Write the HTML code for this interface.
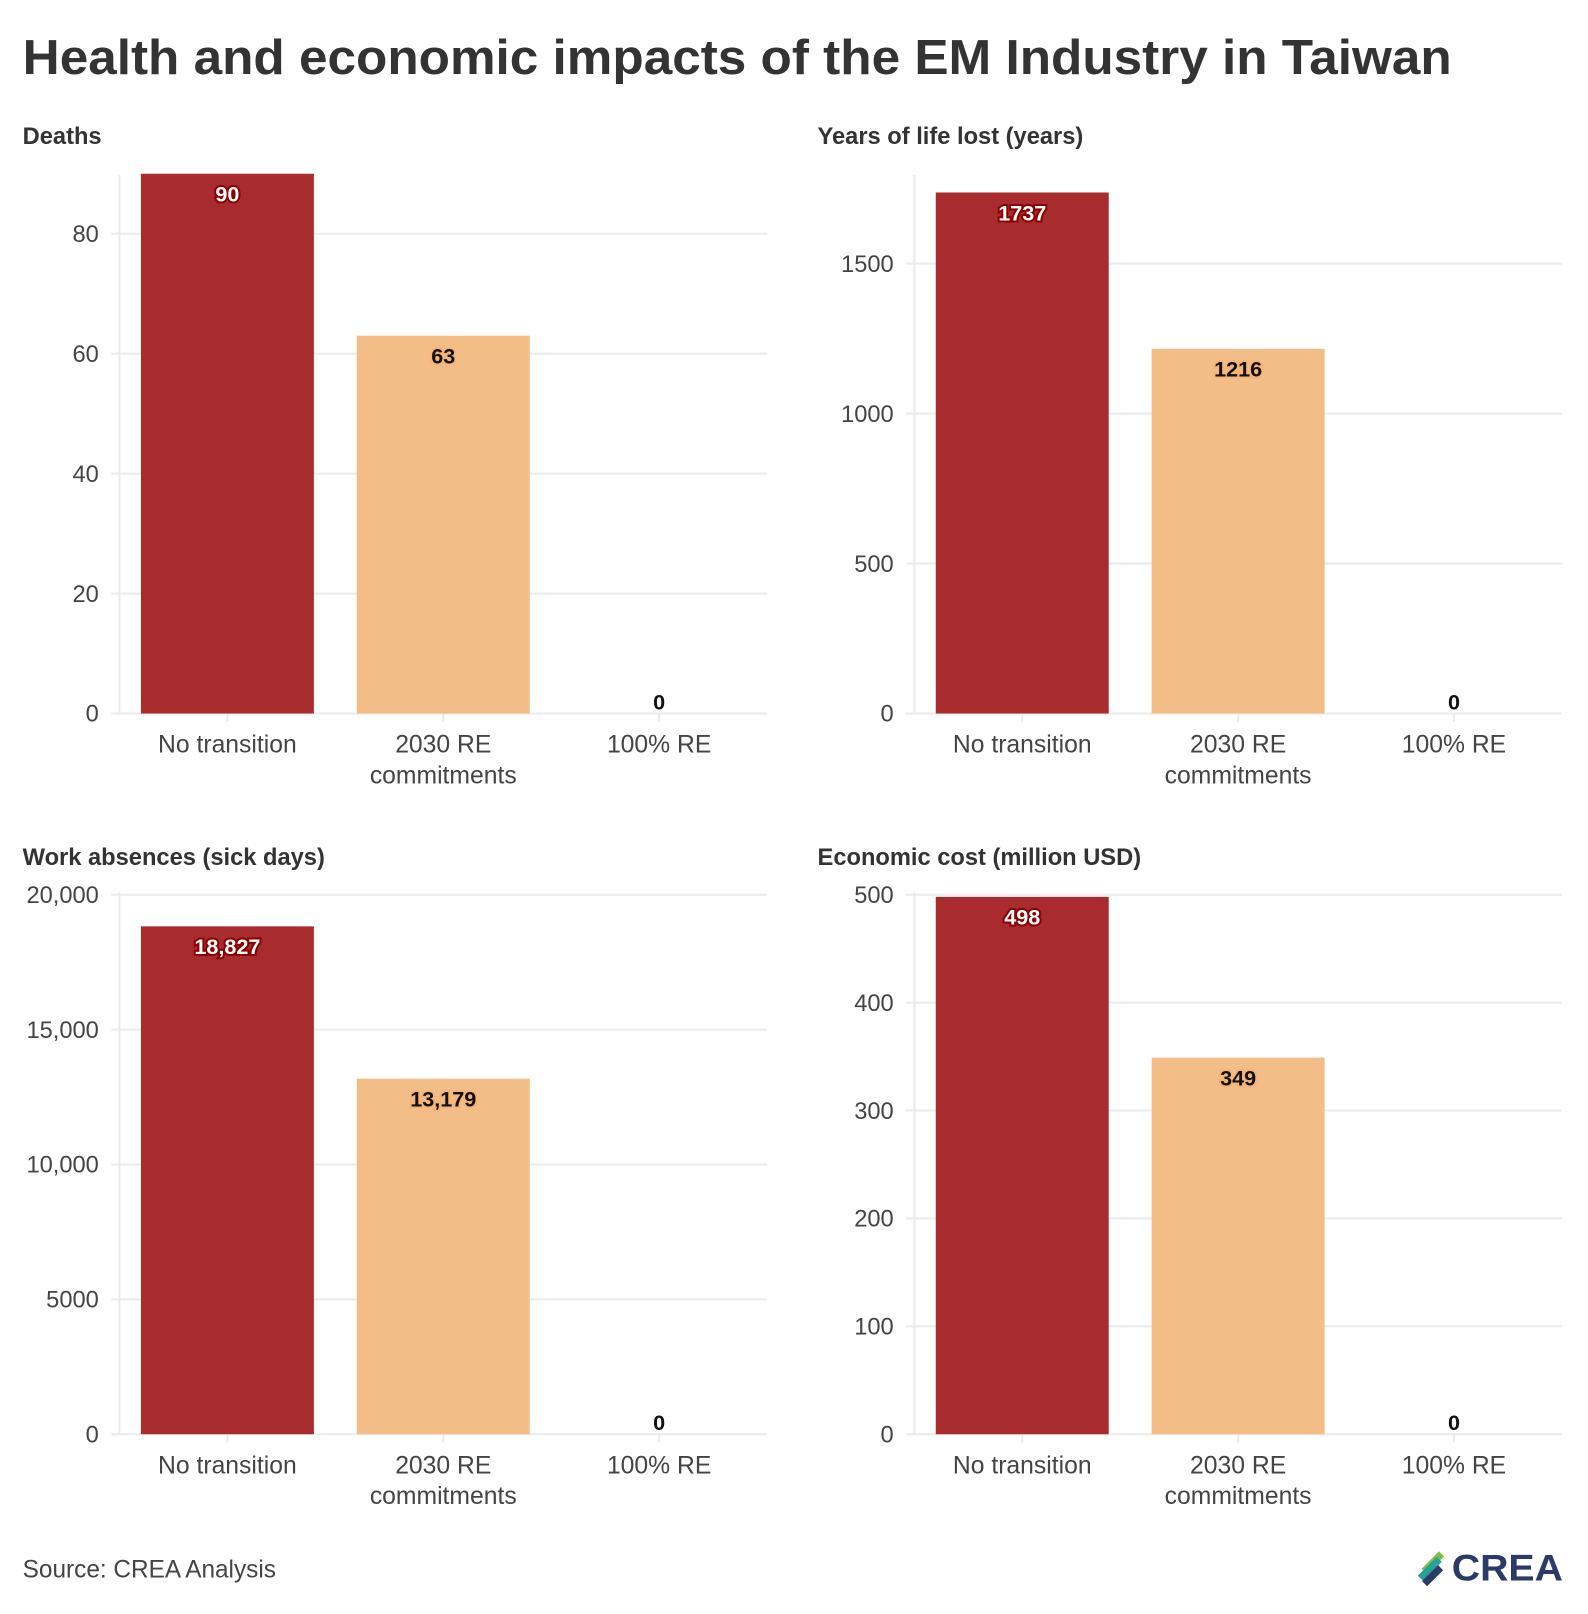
<!DOCTYPE html>
<html><head><meta charset="utf-8"><style>
html,body{margin:0;padding:0;background:#fff}
svg{display:block}
text{font-family:"Liberation Sans",sans-serif}
</style></head><body>
<svg id="chart" width="1588" height="1614" viewBox="0 0 1542.3 1567.6" xmlns="http://www.w3.org/2000/svg">
<text x="22" y="72" font-size="48" font-weight="bold" fill="#333" textLength="1388" lengthAdjust="spacingAndGlyphs">Health and economic impacts of the EM Industry in Taiwan</text>
<text x="22" y="1532" font-size="24" fill="#444" textLength="246" lengthAdjust="spacingAndGlyphs">Source: CREA Analysis</text>
<g>
<rect x="1380" y="1514" width="24" height="7" fill="#7ac143" transform="rotate(-45 1392 1518)"/>
<rect x="1376" y="1520" width="26" height="7" fill="#2aa198" transform="rotate(-45 1389 1524)"/>
<rect x="1380" y="1527" width="22" height="7" fill="#2b3a67" transform="rotate(-45 1391 1530)"/>
<text x="1410" y="1535" font-size="36" font-weight="bold" fill="#2b3a67" textLength="108" lengthAdjust="spacingAndGlyphs">CREA</text>
</g>
<g id="panels"></g>
</svg>
<script>
const categories = ["No transition", "2030 RE|commitments", "100% RE"];
const deathsValues = [90, 63, 0];
const yllValues = [1737, 1216, 0];
const workValues = [18827, 13179, 0];
const econValues = [498, 349, 0];
const deathsTicks = [0, 20, 40, 60, 80];
const yllTicks = [0, 500, 1000, 1500];
const workTicks = [0, 5000, 10000, 15000, 20000];
const workTickLabels = ["0", "5000", "10,000", "15,000", "20,000"];
const econTicks = [0, 100, 200, 300, 400, 500];
const deathsLabels = ["90", "63", "0"];
const yllLabels = ["1737", "1216", "0"];
const workLabels = ["18,827", "13,179", "0"];
const econLabels = ["498", "349", "0"];

const NS = "http://www.w3.org/2000/svg";
const root = document.getElementById("panels");
function mk(tag, attrs, parent) {
  const e = document.createElementNS(NS, tag);
  for (const k in attrs) e.setAttribute(k, attrs[k]);
  (parent || root).appendChild(e);
  return e;
}
function panel(cfg) {
  const g = mk("g", {});
  
  
  const x0 = cfg.x, x1 = cfg.x + 629, y0 = cfg.y0;
  const tmax = cfg.ticks[cfg.ticks.length - 1];
  const yScale = v => y0 - (v / tmax) * (y0 - cfg.yTopTick);
  const band = 629 / 3;
  const xCenter = i => x0 + band * (i + 0.5);
  const t = mk("text", {x: cfg.x - 94, y: cfg.y0 - 553, "font-size": 23, "font-weight": "bold", fill: "#333"}, g);
  t.textContent = cfg.title;
  
  
  cfg.ticks.forEach((v, i) => {
    const y = yScale(v);
    const l = mk("line", {x1: x0 - 8, x2: x1, y1: y, y2: y, stroke: "#ebebeb", "stroke-width": 2}, g);
    
    
    const tx = mk("text", {x: x0 - 20, y: y + 8, "font-size": 23, fill: "#444", "text-anchor": "end"}, g);
    tx.textContent = cfg.tickLabels ? cfg.tickLabels[i] : String(v);
    
    
  });
  const ax = mk("line", {x1: x0, x2: x0, y1: cfg.plotTop, y2: y0, stroke: "#ebebeb", "stroke-width": 2}, g);
  
  
  const colors = ["#a82c2e", "#f3bd87", "#f3bd87"];
  cfg.values.forEach((v, i) => {
    const cx = xCenter(i);
    const tk = mk("line", {x1: cx, x2: cx, y1: y0, y2: y0 + 8, stroke: "#ebebeb", "stroke-width": 2}, g);
    
    
    const yv = yScale(v);
    const r = mk("rect", {x: cx - 84, y: yv, width: 168, height: y0 - yv, fill: colors[i]}, g);
    
    
    const red = i === 0;
    const ly = (y0 - yv) > 30 ? yv + 27 : yv - 4;
    const lab = mk("text", {x: cx, y: ly, "font-size": 21, "font-weight": "bold", "text-anchor": "middle",
      fill: red ? "#fff" : "#111", stroke: red ? "#8b0000" : (i === 1 ? "#f6b479" : "#fff"), "stroke-width": 4, "paint-order": "stroke"}, g);
    lab.textContent = cfg.labels[i];
    
    
    const parts = categories[i].split("|");
    parts.forEach((p, j) => {
      const c = mk("text", {x: cx, y: y0 + 38 + j * 30, "font-size": 24, fill: "#444", "text-anchor": "middle"}, g);
      c.textContent = p;
      
      
    });
  });
}
panel({name: "deaths-panel", title: "Deaths", x: 116, y0: 693, yTopTick: 227, plotTop: 170, ticks: deathsTicks, values: deathsValues, labels: deathsLabels});
panel({name: "yll-panel", title: "Years of life lost (years)", x: 888, y0: 693, yTopTick: 256, plotTop: 170, ticks: yllTicks, values: yllValues, labels: yllLabels});
panel({name: "work-absences-panel", title: "Work absences (sick days)", x: 116, y0: 1393, yTopTick: 869, plotTop: 866, ticks: workTicks, tickLabels: workTickLabels, values: workValues, labels: workLabels});
panel({name: "economic-cost-panel", title: "Economic cost (million USD)", x: 888, y0: 1393, yTopTick: 869, plotTop: 866, ticks: econTicks, values: econValues, labels: econLabels});
</script>
</body></html>
